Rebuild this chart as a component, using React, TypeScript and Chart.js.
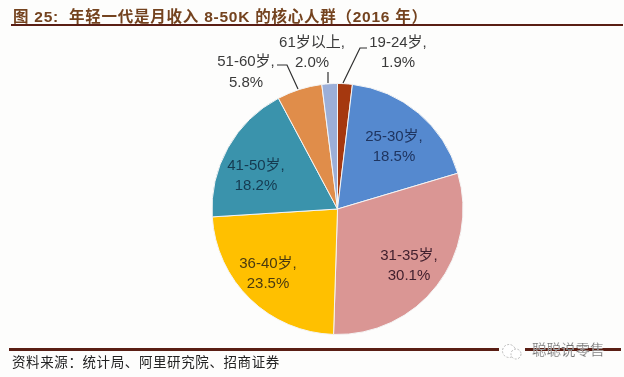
import React, { useEffect, useRef } from "react";
import { Chart, registerables } from "chart.js";

Chart.register(...registerables);

const categories = ["19-24岁", "25-30岁", "31-35岁", "36-40岁", "41-50岁", "51-60岁", "61岁以上"];
const shares = [1.9, 18.5, 30.1, 23.5, 18.2, 5.8, 2.0];
const sliceColors = ["#A5380F", "#5589CF", "#DA9694", "#FFC000", "#3A93AC", "#E08D4A", "#9CAFD8"];

const FONT = '"Liberation Sans", "Noto Sans CJK SC", sans-serif';
const CJK = '"Noto Sans CJK SC", sans-serif';

// label centre x, first-line y, line gap, and optional leader polyline (canvas pixels)
const labelLayout: { x: number; y: number; gap: number; color: string; leader?: number[][] }[] = [
  { x: 398, y: 43, gap: 20, color: "#3A3A3A", leader: [[367, 48], [360, 48], [343, 83]] },
  { x: 394, y: 137, gap: 20, color: "#1F3560" },
  { x: 409, y: 256, gap: 20, color: "#42202E" },
  { x: 268, y: 264, gap: 20, color: "#4A3A10" },
  { x: 256, y: 166, gap: 20, color: "#153A50" },
  { x: 246, y: 62, gap: 21, color: "#3A3A3A", leader: [[277, 65], [287, 65], [298, 89]] },
  { x: 312, y: 43, gap: 20, color: "#3A3A3A", leader: [[328, 72], [328, 83]] },
];

const labelPlugin = {
  id: "sliceLabels",
  afterDraw(chart: any) {
    const { ctx } = chart;
    ctx.save();
    ctx.font = `15px ${FONT}`;
    ctx.textAlign = "center";
    ctx.textBaseline = "middle";
    categories.forEach((name, i) => {
      const l = labelLayout[i];
      ctx.fillStyle = l.color;
      ctx.fillText(`${name},`, l.x, l.y);
      ctx.fillText(`${shares[i].toFixed(1)}%`, l.x, l.y + l.gap);
      if (l.leader) {
        ctx.beginPath();
        ctx.strokeStyle = "#303030";
        ctx.lineWidth = 1.2;
        l.leader.forEach(([x, y], k) => (k ? ctx.lineTo(x, y) : ctx.moveTo(x, y)));
        ctx.stroke();
      }
    });
    ctx.restore();
  },
};

export default function App() {
  const ref = useRef<HTMLCanvasElement>(null);
  useEffect(() => {
    const chart = new Chart(ref.current!, {
      type: "pie",
      data: {
        labels: categories,
        datasets: [{ data: shares, backgroundColor: sliceColors, borderColor: "#F4F4F4", borderWidth: 1 }],
      },
      options: {
        responsive: false,
        animation: false,
        layout: { padding: { left: 211.5, right: 160.5, top: 82.5, bottom: 41.5 } },
        plugins: { legend: { display: false }, tooltip: { enabled: false }, title: { display: false } },
      },
      plugins: [labelPlugin],
    });
    return () => chart.destroy();
  }, []);

  return (
    <div style={{ position: "absolute", left: 0, top: 0, width: 624, height: 377, background: "#FDFDFC", overflow: "hidden" }}>
      <canvas ref={ref} width={624} height={377} style={{ position: "absolute", left: 0, top: 0 }} />
      <div style={{ position: "absolute", left: 13, top: 4, fontFamily: FONT, fontWeight: 700, fontSize: 15.5, letterSpacing: 0.75, color: "#74431F", whiteSpace: "pre" }}>
        {"图 25:  年轻一代是月收入 8-50K 的核心人群（2016 年）"}
      </div>
      <div style={{ position: "absolute", left: 11, top: 24, width: 612, height: 2, background: "#5A1E14" }} />
      <div style={{ position: "absolute", left: 9, top: 348, width: 612, height: 3, background: "#5A1E14" }} />
      <div style={{ position: "absolute", left: 12, top: 351, fontFamily: CJK, fontSize: 13.5, letterSpacing: 0.6, color: "#222222", whiteSpace: "nowrap" }}>
        资料来源：统计局、阿里研究院、招商证券
      </div>
      <svg width={26} height={24} style={{ position: "absolute", left: 499, top: 338 }}>
        <rect x={0} y={9} width={26} height={5} fill="#FDFDFC" />
        <circle cx={10} cy={13} r={6.5} fill="#FFFFFF" stroke="#BBBBBB" strokeDasharray="2 1.5" />
        <circle cx={17} cy={16} r={5} fill="#FFFFFF" stroke="#BBBBBB" strokeDasharray="2 1.5" />
      </svg>
      <div style={{ position: "absolute", left: 532, top: 338, fontFamily: CJK, fontSize: 14.5, color: "#707070", whiteSpace: "nowrap", WebkitTextStroke: "0.2px #FFFFFF" }}>
        聪聪说零售
      </div>
    </div>
  );
}
